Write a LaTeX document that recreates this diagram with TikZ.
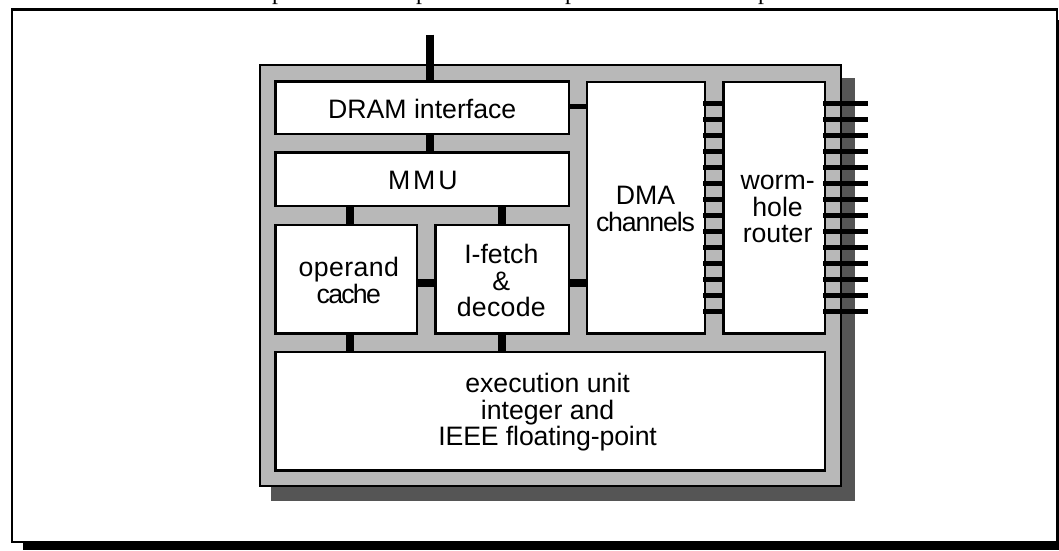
\documentclass[tikz,border=0pt]{standalone}
\usepackage{fontspec}
\setmainfont{Liberation Sans}
\newfontfamily\clipfont{Liberation Serif}
\definecolor{chipgray}{HTML}{B8B8B8}
\definecolor{shadowgray}{HTML}{555555}
\newlength{\pxu}\setlength{\pxu}{0.75pt}
\newcommand{\lsp}[2]{{\addfontfeature{LetterSpace=#1}#2}}
\tikzset{
  blockbox/.style={draw=black,fill=white,line width=1.8pt,inner sep=0pt,outer sep=0pt},
  blocktext/.style={inner sep=0pt,outer sep=0pt,align=center,font=\fontsize{20}{20}\selectfont},
  chipbox/.style={draw=black,fill=chipgray,line width=1.8pt,inner sep=0pt,outer sep=0pt},
  framebox/.style={draw=black,fill=white,line width=1.6pt,inner sep=0pt,outer sep=0pt},
  bus/.style={draw=black,line width=6pt},
  thinbus/.style={draw=black,line width=3.7pt},
  link/.style={draw=black,line width=4.1pt,shorten <=-1pt,shorten >=-1pt},
  cutoff/.style={inner sep=0pt,outer sep=0pt,anchor=base west,font=\clipfont\fontsize{18}{18}\selectfont},
}
\newcommand{\rectnode}[6][]{%
  \node[#1,minimum width={(#5-#3)*\pxu},minimum height={(#6-#4)*\pxu}] (#2) at ({(#3+#5)/2},{(#4+#6)/2}) {};}
% name, dx, dy, text
\newcommand{\blocklabel}[4]{\node[blocktext] (#1-text) at ([xshift=#2*\pxu,yshift=-#3*\pxu]#1.center) {#4};}
\begin{document}
\begin{tikzpicture}[x=0.75pt,y=-0.75pt]
\useasboundingbox (0,0) rectangle (1059,550);
% outer frame with shadow
\fill[black] (23,20) rectangle (1059,550);
\rectnode[framebox]{frame}{11.7}{9.5}{1057}{542}
% cut-off text at the top
\node[cutoff] (p1) at (272,-0.7) {p};
\node[cutoff] (p2) at (416,-0.7) {p};
\node[cutoff] (p3) at (565,-0.7) {p};
\node[cutoff] (p4) at (758,-0.7) {p};
% chip
\fill[shadowgray] (271,77.6) rectangle (855,500.7);
\rectnode[chipbox]{chip}{259.8}{65.2}{841}{485.7}
% blocks
\rectnode[blockbox]{dram}{275.5}{81.5}{569}{133.7}
\rectnode[blockbox]{mmu}{275.5}{152.4}{569}{205.7}
\rectnode[blockbox]{opcache}{275.5}{224.7}{417}{333.5}
\rectnode[blockbox]{ifetch}{435.6}{224.7}{569}{333.5}
\rectnode[blockbox]{exec}{275.5}{352.2}{824.7}{470.3}
\rectnode[blockbox]{dma}{587.2}{81.7}{704.7}{333.5}
\rectnode[blockbox]{router}{723.5}{81.7}{824.7}{333.5}
\blocklabel{dram}{0}{1}{DRAM interface}
\blocklabel{mmu}{0.6}{1.5}{\lsp{11}{MMU}}
\blocklabel{opcache}{2.5}{1.5}{\lsp{1.5}{operand}\\\lsp{-6.5}{cache}}
\blocklabel{ifetch}{-1}{1.5}{I-fetch\\\&\\\lsp{1}{decode}}
\blocklabel{exec}{-2.5}{1}{execution unit\\integer and\\\lsp{-0.5}{IEEE floating-point}}
\blocklabel{dma}{-0.5}{1.5}{DMA\\\lsp{-4.2}{channels}}
\blocklabel{router}{3.5}{1.5}{worm-\\hole\\router}
% connector anchors
\coordinate (top) at (430,34.5);
\coordinate (xa) at (350,0);
\coordinate (xb) at (502,0);
\coordinate (ya) at (0,283);
\coordinate (yb) at (0,106.5);
% connectors
\draw[bus] (top) -- (dram.north -| top);
\draw[bus] (dram.south -| top) -- (mmu.north -| top);
\draw[bus] (mmu.south -| xa) -- (opcache.north -| xa);
\draw[bus] (mmu.south -| xb) -- (ifetch.north -| xb);
\draw[bus] (opcache.south -| xa) -- (exec.north -| xa);
\draw[bus] (ifetch.south -| xb) -- (exec.north -| xb);
\draw[bus] (opcache.east |- ya) -- (ifetch.west |- ya);
\draw[bus] (ifetch.east |- ya) -- (dma.west |- ya);
\draw[thinbus] (dram.east |- yb) -- (dma.west |- yb);
\foreach \i in {0,...,13}{
  \coordinate (lk\i) at (0,{103.5+16*\i});
  \coordinate (pin\i) at (868.4,{103.5+16*\i});
  \draw[link] (dma.east |- lk\i) -- (router.west |- lk\i);
  \draw[link,shorten >=0pt] (router.east |- lk\i) -- (pin\i);
}
\end{tikzpicture}
\end{document}
